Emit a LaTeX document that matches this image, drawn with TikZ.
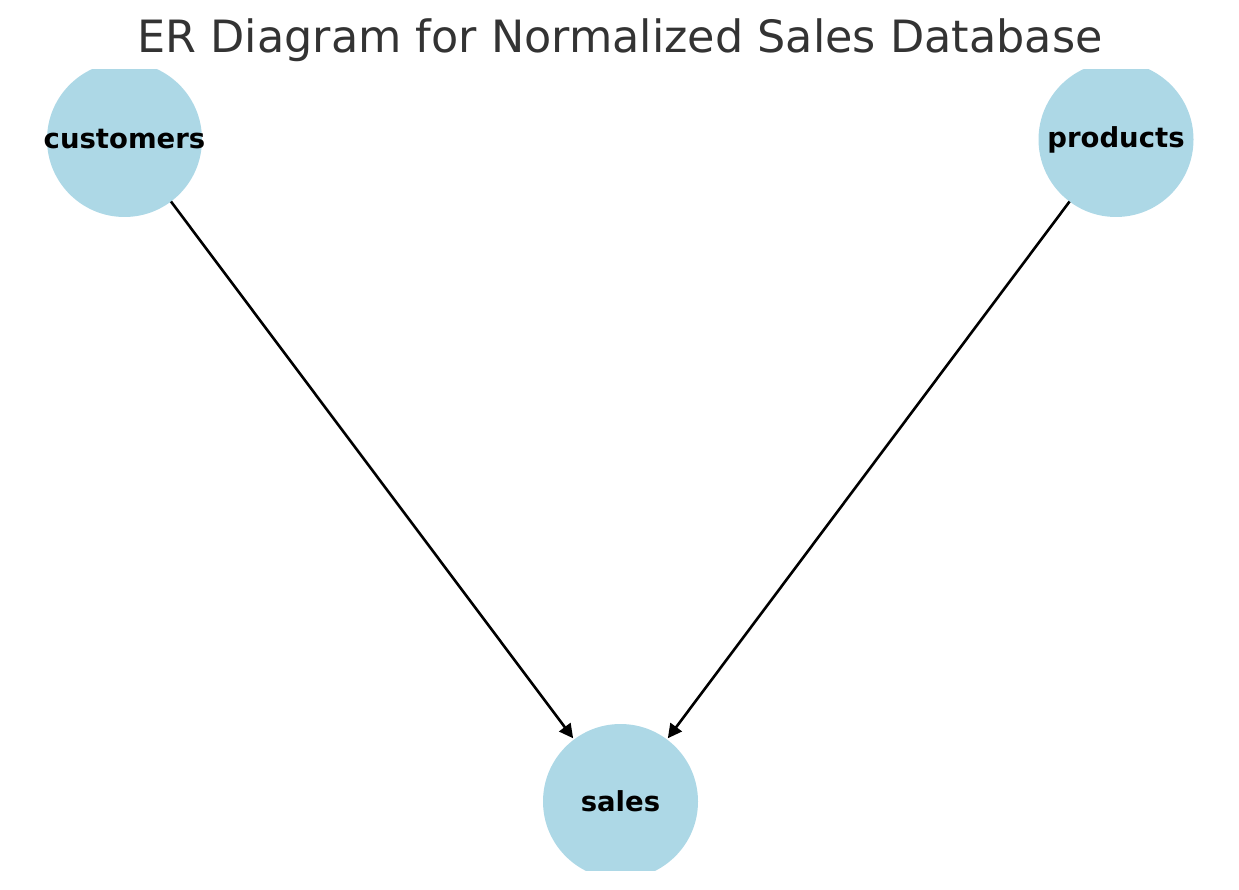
\documentclass[tikz,border=0pt]{standalone}
\usepackage{fontspec}
\setmainfont{DejaVu Sans}
\usepackage{tikz}
\usetikzlibrary{arrows.meta, positioning}
\definecolor{erblue}{RGB}{173, 216, 230}
\definecolor{ertitle}{RGB}{51, 51, 51}

\begin{document}
\begin{tikzpicture}[
  x=1pt, y=-1pt,
  entity/.style={circle, fill=erblue, draw=none, minimum size=155pt, inner sep=0pt,
              outer sep=0pt},
  entlabel/.style={label={[font=\fontsize{27.5}{30}\selectfont\bfseries]center:#1}},
  arrow/.style={-{Triangle[length=14pt, width=14pt]}, line width=2.6pt, color=black,
              shorten >=1.5pt},
]
  \useasboundingbox (0,0) rectangle (1239,890);
  \node[anchor=base, text=ertitle, font=\fontsize{44.5}{50}\selectfont] (title) at (620,53) {ER Diagram for Normalized Sales Database};

  \begin{scope}
    \clip (0,70) rectangle (1239,870);
    \node[entity, entlabel=customers] (customers) at (124.5,139.5) {};
    \node[entity, entlabel=products] (products) at (1116,139.5) {};
    \node[entity, entlabel=sales] (sales) at (620.5,801.5) {};

    \draw[arrow] (customers) -- (sales);
    \draw[arrow] (products) -- (sales);
  \end{scope}
\end{tikzpicture}
\end{document}
